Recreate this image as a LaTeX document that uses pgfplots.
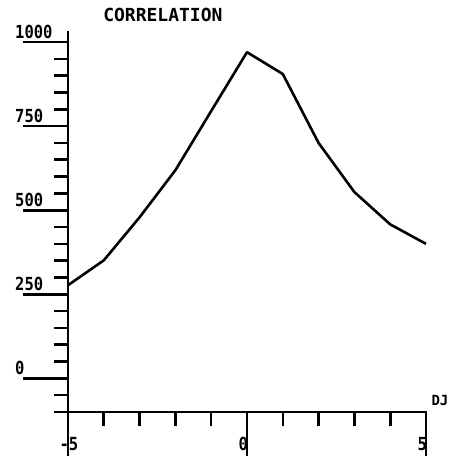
\documentclass[border=0pt]{standalone}
\usepackage{fontspec}
\setmainfont{DejaVu Sans Mono}
\newfontfamily\tickfont{DejaVu Sans Mono}[FakeStretch=0.86]
\usepackage{pgfplots}
\pgfplotsset{compat=1.18}
\begin{document}
\begin{tikzpicture}
\begin{axis}[
  scale only axis,
  width=358pt, height=380pt,
  xmin=-5, xmax=5, ymin=-100, ymax=1030,
  axis lines=left,
  axis line style={-, line width=2.6pt, line cap=rect},
  tick align=outside,
  tick style={line width=2.6pt, black},
  major tick length=45pt,
  minor tick length=14pt,
  xtick={-5,0,5},
  xticklabels={-5, 0\hphantom{0}, 5\hphantom{5}},
  minor xtick={-4,-3,-2,-1,1,2,3,4},
  ytick={0,250,500,750,1000},
  minor ytick={-100,-50,...,1000},
  /pgf/number format/assume math mode=true,
  /pgf/number format/set thousands separator={},
  ticklabel style={font=\tickfont\bfseries\fontsize{18}{18}\selectfont},
  yticklabel style={anchor=south west, inner sep=0pt, xshift=-8pt, yshift=3pt},
  xticklabel style={anchor=north, inner sep=0pt, yshift=20pt, xshift=1pt},
  title={CORRELATION},
  title style={at={(axis description cs:0.098,1.029)}, anchor=west, inner sep=0pt, font=\bfseries\fontsize{18}{18}\selectfont},
  xlabel={DJ},
  xlabel style={at={(axis description cs:1.039,0.029)}, anchor=center, inner sep=0pt, font=\bfseries\fontsize{14}{14}\selectfont},
  clip=false,
]
\addplot[black, line width=2.6pt, line join=round] coordinates {
  (-5,277) (-4,351) (-3,479) (-2,619) (-1,795) (0,970)
  (1,905) (2,700) (3,554) (4,458) (5,400)
};
\end{axis}
\pgfresetboundingbox
\path[use as bounding box] (-68pt,-44pt) rectangle (387pt,412pt);
\end{tikzpicture}
\end{document}
